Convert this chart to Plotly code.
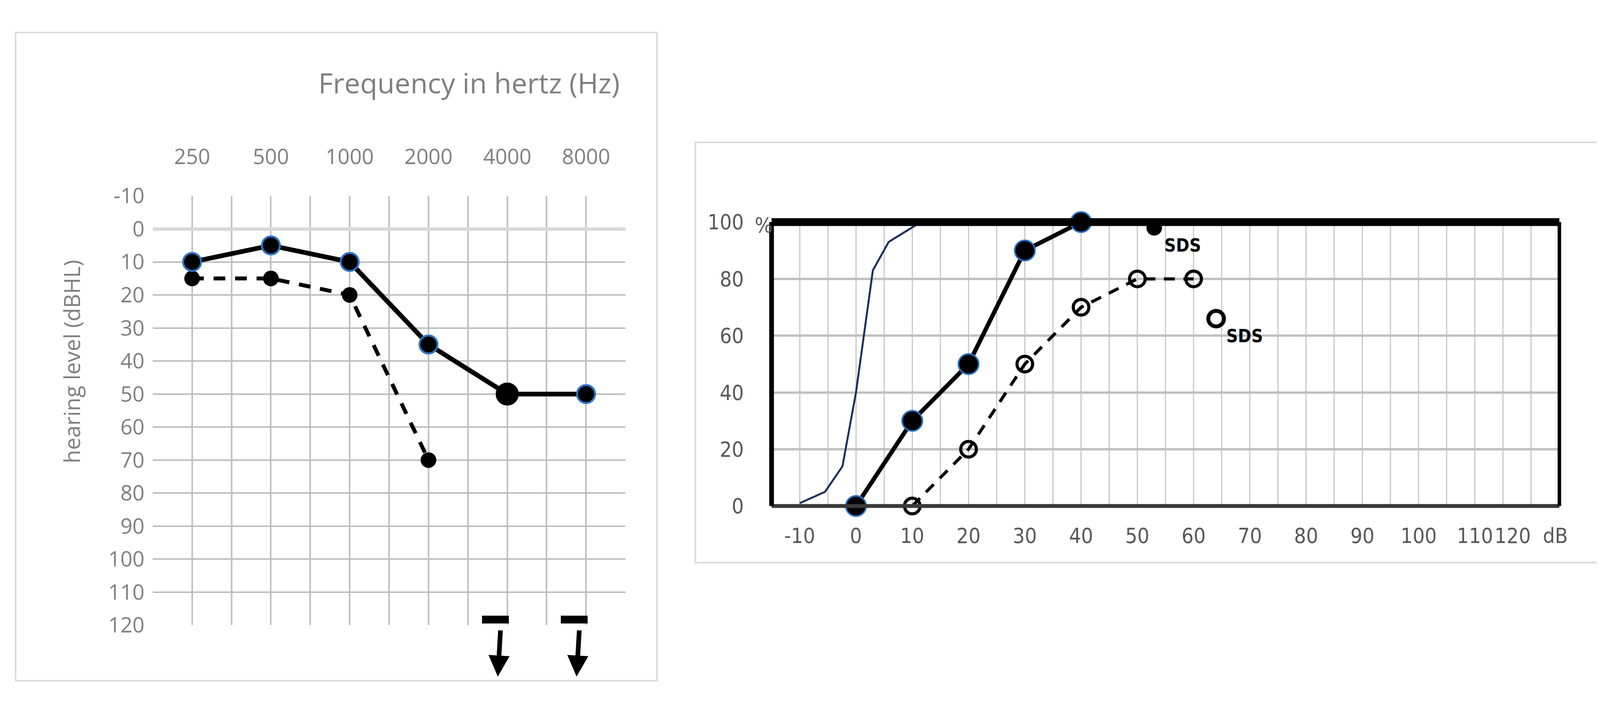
import plotly.graph_objects as go

# Left audiogram data
freq_labels = ["250", "500", "1000", "2000", "4000", "8000"]
hl_ticks = list(range(-10, 121, 10))
solid_hl = [10, 5, 10, 35, 50, 50]
dashed_hl = [15, 15, 20, 70]
no_response_idx = [4, 5]

# Right speech audiometry data
norm_db = [-10, -5.5, -2.4, 0, 3, 5.8, 10.7]
norm_pct = [1, 5, 14, 40, 83, 93, 99]
solid_db = [0, 10, 20, 30, 40]
solid_pct = [0, 30, 50, 90, 100]
solid_sds = (53, 98)
dash_db = [10, 20, 30, 40, 50, 60]
dash_pct = [0, 20, 50, 70, 80, 80]
dash_sds = (64, 66)
db_ticks = list(range(-10, 121, 10))
pct_ticks = [0, 20, 40, 60, 80, 100]

GREY = "#7f7f7f"
RFONT = "DejaVu Sans Condensed, Liberation Sans, sans-serif"
fig = go.Figure()
xs = list(range(len(freq_labels)))

# Left chart
fig.add_trace(go.Scatter(x=xs[:len(dashed_hl)], y=dashed_hl, mode="lines+markers", opacity=1,
    line=dict(color="black", width=10, dash="30px,25px"),
    marker=dict(size=40, color="black", opacity=1), xaxis="x", yaxis="y", cliponaxis=False))
fig.add_trace(go.Scatter(x=xs, y=solid_hl, mode="lines+markers", opacity=1,
    line=dict(color="black", width=12),
    marker=dict(size=[46, 46, 46, 46, 54, 46], color="black", opacity=1,
                line=dict(color=["#2a75c8"]*4 + ["black", "#2a75c8"], width=5)),
    xaxis="x", yaxis="y", cliponaxis=False))

tv = [i * 0.5 - 0.5 for i in range(13)]
tt = [freq_labels[int(v)] if float(v).is_integer() else "" for v in tv]
fig.update_layout(
    xaxis=dict(domain=[0.0912, 0.3794], range=[-0.5, 5.5], side="top", tickvals=tv, ticktext=tt,
               showgrid=True, gridcolor="#bfbfbf", gridwidth=4, zeroline=False, ticks="",
               tickfont=dict(family="Open Sans", size=54, color=GREY), ticklabelstandoff=70,
               anchor="y", showline=False),
    yaxis=dict(domain=[0.0985, 0.7362], range=[120, -10], tickvals=hl_ticks,
               ticktext=[str(v) for v in hl_ticks], showgrid=True,
               gridcolor="#bfbfbf", gridwidth=4, zeroline=True, zerolinecolor="#d9d9d9",
               zerolinewidth=9, tickfont=dict(family="Open Sans", size=54, color=GREY),
               ticks="", ticklabelstandoff=20, anchor="x"),
)

# no-response arrows (below the plot, in paper coords)
for i in no_response_idx:
    fig.add_annotation(x=i - 0.12, y=0.022, xref="x", yref="paper", ax=7, ay=-120,
                       text="", showarrow=True, arrowhead=2,
                       arrowsize=0.9, arrowwidth=12, arrowcolor="black")
    fig.add_shape(type="line", xref="x", yref="y", x0=i - 0.32, x1=i + 0.02, y0=118.3, y1=118.3,
                  line=dict(color="black", width=20))

fig.add_annotation(text="Frequency in hertz (Hz)", xref="paper", yref="paper", x=0.3765, y=0.905,
                   xanchor="right", yanchor="middle", showarrow=False,
                   font=dict(family="Open Sans", size=72, color=GREY))
fig.add_annotation(text="hearing level (dBHL)", xref="paper", yref="paper", x=0.032, y=0.49,
                   textangle=-90, showarrow=False, font=dict(family="Open Sans", size=56, color=GREY))
fig.add_shape(type="rect", xref="paper", yref="paper", x0=0.0076, x1=0.3986, y0=0.016, y1=0.979,
              line=dict(color="#d9d9d9", width=4))

# Right chart
fig.add_trace(go.Scatter(x=norm_db, y=norm_pct, mode="lines", line=dict(color="#1f2f5a", width=5),
                         xaxis="x2", yaxis="y2", cliponaxis=False))
fig.add_trace(go.Scatter(x=dash_db, y=dash_pct, mode="lines+markers",
    line=dict(color="black", width=8, dash="28px,22px"),
    marker=dict(symbol="circle-open", size=40, color="black", line=dict(width=8)),
    xaxis="x2", yaxis="y2", cliponaxis=False))
fig.add_trace(go.Scatter(x=solid_db, y=solid_pct, mode="lines+markers",
    line=dict(color="black", width=11),
    marker=dict(size=52, color="black", opacity=1, line=dict(color="#2a75c8", width=4)),
    xaxis="x2", yaxis="y2", cliponaxis=False))
fig.add_trace(go.Scatter(x=[solid_sds[0]], y=[solid_sds[1]], mode="markers+text",
    marker=dict(size=40, color="black"), text=["<b>SDS</b>"], textposition="bottom right",
    textfont=dict(family=RFONT, size=46, color="black"),
    xaxis="x2", yaxis="y2", cliponaxis=False))
fig.add_trace(go.Scatter(x=[dash_sds[0]], y=[dash_sds[1]], mode="markers+text",
    marker=dict(symbol="circle-open", size=40, color="black", line=dict(width=10)),
    text=["<b>SDS</b>"], textposition="bottom right",
    textfont=dict(family=RFONT, size=46, color="black"),
    xaxis="x2", yaxis="y2", cliponaxis=False))

RG = "#595959"
fig.update_layout(
    xaxis2=dict(domain=[0.4685, 0.9488], range=[-15, 125], tickvals=db_ticks,
                ticktext=[str(v) for v in db_ticks[:-1]] + ["120  dB"],
                showgrid=True, gridcolor="#c8c8c8", gridwidth=3, zeroline=False,
                minor=dict(dtick=5, showgrid=True, gridcolor="#c8c8c8", gridwidth=3, tick0=0),
                tickfont=dict(family=RFONT, size=54, color=RG),
                ticklabelstandoff=40, anchor="y2"),
    yaxis2=dict(domain=[0.2755, 0.6973], range=[0, 100], tickvals=pct_ticks,
                ticktext=[str(v) for v in pct_ticks],
                showgrid=True, gridcolor="#c0c0c0", gridwidth=6, zeroline=False,
                tickfont=dict(family=RFONT, size=54, color=RG),
                ticklabelstandoff=70, anchor="x2"),
)
fig.add_annotation(text="%", xref="x2 domain", yref="paper", x=-0.01, y=0.712, showarrow=False,
                   xanchor="center", font=dict(family=RFONT, size=54, color=RG))
fig.add_shape(type="line", xref="x2 domain", yref="y2 domain", x0=0, x1=1, y0=1, y1=1,
              line=dict(color="black", width=20))
fig.add_shape(type="line", xref="x2 domain", yref="y2 domain", x0=0, x1=1, y0=0, y1=0,
              line=dict(color="#3a3a3a", width=10))
fig.add_shape(type="line", xref="x2 domain", yref="y2 domain", x0=0, x1=0, y0=0, y1=1,
              line=dict(color="black", width=12))
fig.add_shape(type="line", xref="x2 domain", yref="y2 domain", x0=1, x1=1, y0=0, y1=1,
              line=dict(color="black", width=9))
fig.add_shape(type="rect", xref="paper", yref="paper", x0=0.4221, x1=0.9922, y0=0.1914, y1=0.8158,
              line=dict(color="#d9d9d9", width=4))

fig.update_layout(width=4220, height=1797, margin=dict(l=0, r=0, t=0, b=0),
                  paper_bgcolor="white", plot_bgcolor="white", showlegend=False)
fig.write_html("out.html")
